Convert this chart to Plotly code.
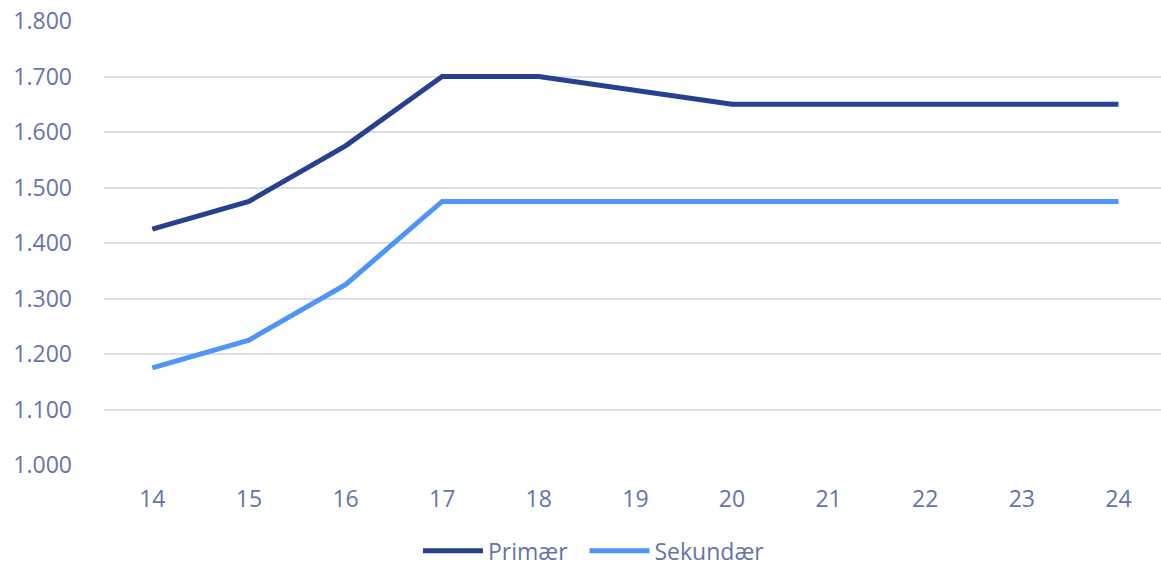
import plotly.graph_objects as go

categories = ["14", "15", "16", "17", "18", "19", "20", "21", "22", "23", "24"]
primaer = [1425, 1475, 1575, 1700, 1700, 1675, 1650, 1650, 1650, 1650, 1650]
sekundaer = [1175, 1225, 1325, 1475, 1475, 1475, 1475, 1475, 1475, 1475, 1475]
y_ticks = [1000, 1100, 1200, 1300, 1400, 1500, 1600, 1700, 1800]
y_labels = ["1.000", "1.100", "1.200", "1.300", "1.400", "1.500", "1.600", "1.700", "1.800"]

text_color = "#6474a8"
fig = go.Figure()
fig.add_trace(go.Scatter(x=list(range(len(categories))), y=primaer, name="Primær\u00a0\u00a0",
                         mode="lines", line=dict(color="#25418f", width=5)))
fig.add_trace(go.Scatter(x=list(range(len(categories))), y=sekundaer, name="Sekundær",
                         mode="lines", line=dict(color="#4e94fc", width=5)))

fig.update_layout(
    width=1161, height=566,
    margin=dict(l=104, r=0, t=21, b=101, autoexpand=False),
    paper_bgcolor="white", plot_bgcolor="white",
    font=dict(family="Open Sans", size=23, color=text_color),
    showlegend=True,
    legend=dict(orientation="h", x=0.5116, xanchor="center", xref="container",
                y=0.027, yanchor="middle", yref="container",
                font=dict(size=23, color=text_color), itemwidth=60,
                traceorder="normal"),
    xaxis=dict(range=[-0.5, 10.44], tickmode="array",
               tickvals=list(range(len(categories))), ticktext=categories,
               showgrid=False, zeroline=False, showline=False,
               ticks="", ticklabelstandoff=18, fixedrange=True),
    yaxis=dict(range=[1000, 1800], tickmode="array", tickvals=y_ticks,
               ticktext=y_labels, showgrid=True, gridcolor="#dcdfe7",
               gridwidth=2, zeroline=False, showline=False, ticks="",
               ticklabelstandoff=31, fixedrange=True),
)
fig.write_html("out.html")
